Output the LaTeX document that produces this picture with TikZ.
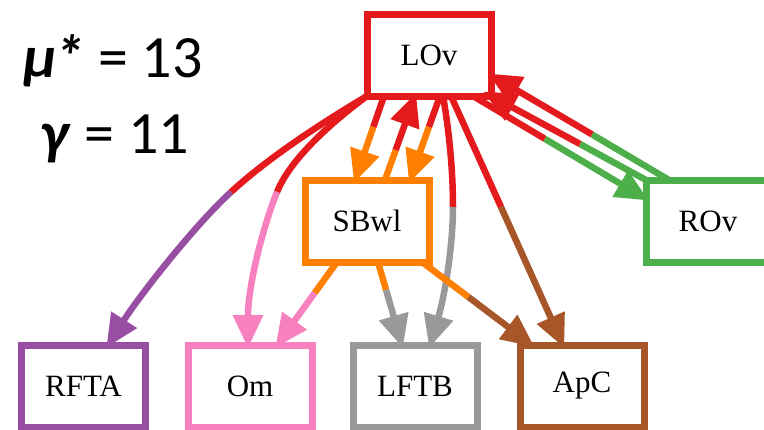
\documentclass[tikz,border=0pt]{standalone}
\usepackage{fontspec}
\setmainfont{Liberation Serif}
\newfontfamily\calib{Carlito}
\usetikzlibrary{positioning, arrows.meta}

\definecolor{cRed}{HTML}{E41A1C}
\definecolor{cGreen}{HTML}{4DAF4A}
\definecolor{cPurple}{HTML}{984EA3}
\definecolor{cOrange}{HTML}{FF7F00}
\definecolor{cBrown}{HTML}{A65628}
\definecolor{cPink}{HTML}{F781BF}
\definecolor{cGray}{HTML}{999999}

\begin{document}
\begin{tikzpicture}[
  x=1pt, y=-1pt,
  box/.style={rectangle, draw=#1, line width=7pt, minimum width=124pt,
    minimum height=82pt, inner sep=0pt, outer sep=0pt,
    font=\fontsize{31}{31}\selectfont},
  edge/.style={line width=6.5pt, draw=#1},
  hd/.style={-{Triangle[length=33pt, width=29pt]}, shorten >=-3pt},
  big/.style={font=\calib\fontsize{60}{60}\selectfont, anchor=base},
]
\useasboundingbox (0,0) rectangle (764,429);
\clip (0,0) rectangle (764,429);

% --- Scores ---
\node[big] (mulbl)    at (113,77)  {\textbf{\textit{μ}\kern-2pt\textit{*}} = 13};
\node[big] (gammalbl) at (115,153) {\textbf{\textit{γ}} = 11};

% --- Nodes ---
\node[box=cRed]    (lov)  at (429,55)  {LOv};
\node[box=cOrange] (sbwl) at (367,221) {SBwl};
\node[box=cGreen]  (rov)  at (708,221) {ROv};
\node[box=cPurple] (rfta) at (83.5,386) {RFTA};
\node[box=cPink]   (om)   at (250,386) {Om};
\node[box=cGray]   (lftb) at (415,386) {LFTB};
\node[box=cBrown]  (apc)  at (582,386) {ApC};

% --- Split points (colour changes half way) ---
\coordinate (m1)  at (231,192);
\coordinate (m2)  at (277,192);
\coordinate (m3)  at (373.3,127);
\coordinate (m4)  at (395.7,150);
\coordinate (m5)  at (428.9,127);
\coordinate (m6)  at (453,207);
\coordinate (m7)  at (501,207);
\coordinate (m8)  at (545,138.9);
\coordinate (m9)  at (592,134.4);
\coordinate (m10) at (580,144);
\coordinate (m11) at (314.6,293);
\coordinate (m12) at (386.1,290);
\coordinate (m13) at (468.4,297);

% --- LOv to the bottom row ---
\draw[edge=cRed] (lov.south west) .. controls (320,124) and (268,158) .. (m1);
\draw[edge=cPurple, hd] (m1) .. controls (194,226) and (140,295)
  .. ([xshift=24.5pt]rfta.north);
\draw[edge=cRed] (lov.south west) .. controls (340,116) and (292,155) .. (m2);
\draw[edge=cPink, hd] (m2) .. controls (263,227) and (248,285)
  .. ([xshift=-2pt]om.north);
\draw[edge=cRed] ([xshift=14pt]lov.south) .. controls (449,130) and (453,170) .. (m6);
\draw[edge=cGray, hd] (m6) .. controls (453,245) and (445,295)
  .. ([xshift=15pt]lftb.north);
\draw[edge=cRed] ([xshift=22pt]lov.south) -- (m7);
\draw[edge=cBrown, hd] (m7) -- ([xshift=-19pt]apc.north);

% --- LOv and SBwl ---
\draw[edge=cRed] ([xshift=-45pt]lov.south) -- (m3);
\draw[edge=cOrange, hd] (m3) -- ([xshift=-12pt]sbwl.north);
\draw[edge=cOrange] ([xshift=18pt]sbwl.north) -- (m4);
\draw[edge=cRed, hd] (m4) -- ([xshift=-14pt]lov.south);
\draw[edge=cRed] ([xshift=11pt]lov.south) -- (m5);
\draw[edge=cOrange, hd] (m5) -- ([xshift=43pt]sbwl.north);

% --- LOv and ROv ---
\draw[edge=cRed] ([xshift=44pt]lov.south) -- (m8);
\draw[edge=cGreen, hd] (m8) -- ([yshift=22pt]rov.west);
\draw[edge=cGreen] ([xshift=-39pt]rov.north) -- (m9);
\draw[edge=cRed, hd] (m9) -- ([yshift=-20pt]lov.east);
\draw[edge=cGreen] (rov.north west) -- (m10);
\draw[edge=cRed, hd] (m10) -- ([xshift=-5pt, yshift=3pt]lov.south east);

% --- SBwl to the bottom row ---
\draw[edge=cOrange] ([xshift=-30pt]sbwl.south) -- (m11);
\draw[edge=cPink, hd] (m11) -- ([xshift=27pt]om.north);
\draw[edge=cOrange] ([xshift=11pt]sbwl.south) -- (m12);
\draw[edge=cGray, hd] (m12) -- ([xshift=-13pt]lftb.north);
\draw[edge=cOrange] ([xshift=55pt]sbwl.south) -- (m13);
\draw[edge=cBrown, hd] (m13) -- ([xshift=-50pt]apc.north);

\end{tikzpicture}
\end{document}
